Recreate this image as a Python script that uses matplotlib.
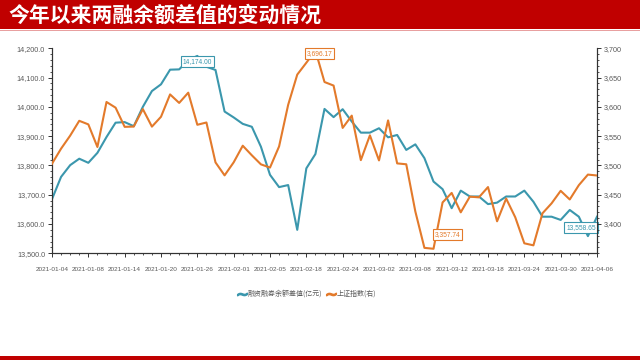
import matplotlib
matplotlib.use("Agg")
import matplotlib.pyplot as plt
from matplotlib import font_manager
from matplotlib.lines import Line2D
from matplotlib.patches import Rectangle
from matplotlib.ticker import MultipleLocator, FixedLocator, FuncFormatter

plt.rcParams['font.family'] = ['Noto Sans CJK SC', 'DejaVu Sans']

names = {f.name for f in font_manager.fontManager.ttflist}
NUMFONT = 'Liberation Sans Narrow' if 'Liberation Sans Narrow' in names else 'Liberation Sans'

dates = ["2021-01-04", "2021-01-05", "2021-01-06", "2021-01-07", "2021-01-08",
         "2021-01-11", "2021-01-12", "2021-01-13", "2021-01-14", "2021-01-15",
         "2021-01-18", "2021-01-19", "2021-01-20", "2021-01-21", "2021-01-22",
         "2021-01-25", "2021-01-26", "2021-01-27", "2021-01-28", "2021-01-29",
         "2021-02-01", "2021-02-02", "2021-02-03", "2021-02-04", "2021-02-05",
         "2021-02-08", "2021-02-09", "2021-02-10", "2021-02-18", "2021-02-19",
         "2021-02-22", "2021-02-23", "2021-02-24", "2021-02-25", "2021-02-26",
         "2021-03-01", "2021-03-02", "2021-03-03", "2021-03-04", "2021-03-05",
         "2021-03-08", "2021-03-09", "2021-03-10", "2021-03-11", "2021-03-12",
         "2021-03-15", "2021-03-16", "2021-03-17", "2021-03-18", "2021-03-19",
         "2021-03-22", "2021-03-23", "2021-03-24", "2021-03-25", "2021-03-26",
         "2021-03-29", "2021-03-30", "2021-03-31", "2021-04-01", "2021-04-02",
         "2021-04-06"]

margin_diff = [13685, 13761, 13801, 13823, 13809, 13843, 13897, 13946, 13948, 13934,
               14000, 14054, 14077, 14127, 14128, 14160, 14174.00, 14137, 14126, 13984,
               13964, 13942, 13932, 13864, 13768, 13726, 13733, 13580, 13790, 13839,
               13993, 13965, 13992, 13950, 13912, 13912, 13927, 13896, 13904, 13853,
               13872, 13825, 13745, 13719, 13654, 13714, 13694, 13694, 13668, 13673,
               13694, 13694, 13714, 13676, 13625, 13625, 13614, 13648, 13625, 13558.65,
               13625]

sse_index = [3502.96, 3528.68, 3550.88, 3576.20, 3570.11, 3531.50, 3608.34, 3598.65, 3565.90, 3566.38,
             3596.22, 3566.27, 3583.09, 3621.26, 3606.75, 3624.24, 3569.43, 3573.34, 3505.18, 3483.07,
             3505.28, 3533.68, 3517.31, 3501.86, 3496.33, 3532.44, 3603.49, 3655.09, 3675.36, 3696.17,
             3642.44, 3636.36, 3564.08, 3585.05, 3509.08, 3551.40, 3508.59, 3576.90, 3503.49, 3501.99,
             3421.41, 3359.29, 3357.74, 3436.83, 3453.08, 3419.95, 3446.73, 3445.55, 3463.07, 3404.66,
             3443.44, 3411.51, 3367.06, 3363.59, 3418.33, 3435.30, 3456.68, 3441.91, 3466.33, 3484.39,
             3482.84]

title = "今年以来两融余额差值的变动情况"
label_blue = "融资融券余额差值(亿元)"
label_orange = "上证指数(右)"

BLUE = "#3B97AD"
ORANGE = "#E37A2B"
RED = "#C00000"
GREY = "#595959"

fig = plt.figure(figsize=(6.4, 3.6), dpi=100)
fig.patch.set_facecolor("white")

# title band
fig.add_artist(Rectangle((0, 1 - 29 / 360), 1, 29 / 360, transform=fig.transFigure,
                         facecolor=RED, edgecolor='none', zorder=0))
fig.add_artist(Rectangle((0, 1 - 31 / 360), 1, 1.2 / 360, transform=fig.transFigure,
                         facecolor="#E8A0A0", edgecolor='none', zorder=0))
fig.text(8 / 640, 1 - 15 / 360, title, color="white", fontsize=15, fontweight="bold",
         va="center", ha="left")
# bottom strip
fig.add_artist(Rectangle((0, 0), 1, 4 / 360, transform=fig.transFigure,
                         facecolor=RED, edgecolor='none', zorder=0))

ax = fig.add_axes([52 / 640, 1 - 253.3 / 360, 545 / 640, (253.3 - 48.3) / 360])
ax2 = ax.twinx()

x = list(range(len(dates)))
ax.plot(x, margin_diff, color=BLUE, lw=1.5, zorder=3, solid_joinstyle='round')
ax2.plot(x, sse_index, color=ORANGE, lw=1.5, zorder=3, solid_joinstyle='round')

ax.set_xlim(0, len(dates) - 1)
ax.set_ylim(13500, 14200)
ax2.set_ylim(3350, 3700)

for a in (ax, ax2):
    a.spines['top'].set_visible(False)
    for s in a.spines.values():
        s.set_color("#333333")
        s.set_linewidth(0.8)
    a.patch.set_visible(False)

ax.yaxis.set_major_locator(MultipleLocator(100))
ax.yaxis.set_minor_locator(MultipleLocator(20))
ax.yaxis.set_major_formatter(FuncFormatter(lambda v, p: f"{v:,.1f}"))
ax2.yaxis.set_major_locator(FixedLocator([3400, 3450, 3500, 3550, 3600, 3650, 3700]))
ax2.yaxis.set_minor_locator(MultipleLocator(10))
ax2.yaxis.set_major_formatter(FuncFormatter(lambda v, p: f"{v:,.0f}"))

ax.xaxis.set_major_locator(FixedLocator(x[::4]))
ax.xaxis.set_minor_locator(MultipleLocator(1))
ax.set_xticklabels(dates[::4])

for a in (ax, ax2):
    a.tick_params(which='major', length=3, width=0.7, color="#333333", labelsize=5.2,
                  labelcolor=GREY, pad=2)
    a.tick_params(which='minor', length=1.5, width=0.6, color="#333333")
ax.tick_params(axis='x', which='major', pad=7, labelsize=4.6)
for lbl in ax.get_xticklabels() + ax.get_yticklabels() + ax2.get_yticklabels():
    lbl.set_fontfamily(NUMFONT)

# extreme-value labels
def tag(a, idx, val, color, dx, dy):
    a.annotate(f"{val:,.2f}", xy=(idx, val), xytext=(dx, dy), textcoords='offset points',
               ha='center', va='center', fontsize=4.8, color=color, family=NUMFONT, zorder=6,
               bbox=dict(boxstyle='square,pad=0.3', fc='white', ec=color, lw=0.8))

bmax = margin_diff.index(max(margin_diff))
bmin = margin_diff.index(min(margin_diff))
omax = sse_index.index(max(sse_index))
omin = sse_index.index(min(sse_index))
tag(ax, bmax, margin_diff[bmax], BLUE, 0, -4)
tag(ax, bmin, margin_diff[bmin], BLUE, -5, 6)
tag(ax2, omax, sse_index[omax], ORANGE, 3, -2)
tag(ax2, omin, sse_index[omin], ORANGE, 10, 10)

# legend
handles = [Line2D([], [], ls='none', marker=r'$\sim$', markersize=7, color=BLUE),
           Line2D([], [], ls='none', marker=r'$\sim$', markersize=7, color=ORANGE)]
fig.legend(handles, [label_blue, label_orange], loc='center', bbox_to_anchor=(307 / 640, 1 - 294 / 360),
           ncol=2, frameon=False, fontsize=5, handlelength=1.0, handletextpad=0.3,
           columnspacing=0.8, labelcolor=GREY)

fig.savefig("out.png", dpi=100, facecolor="white")
